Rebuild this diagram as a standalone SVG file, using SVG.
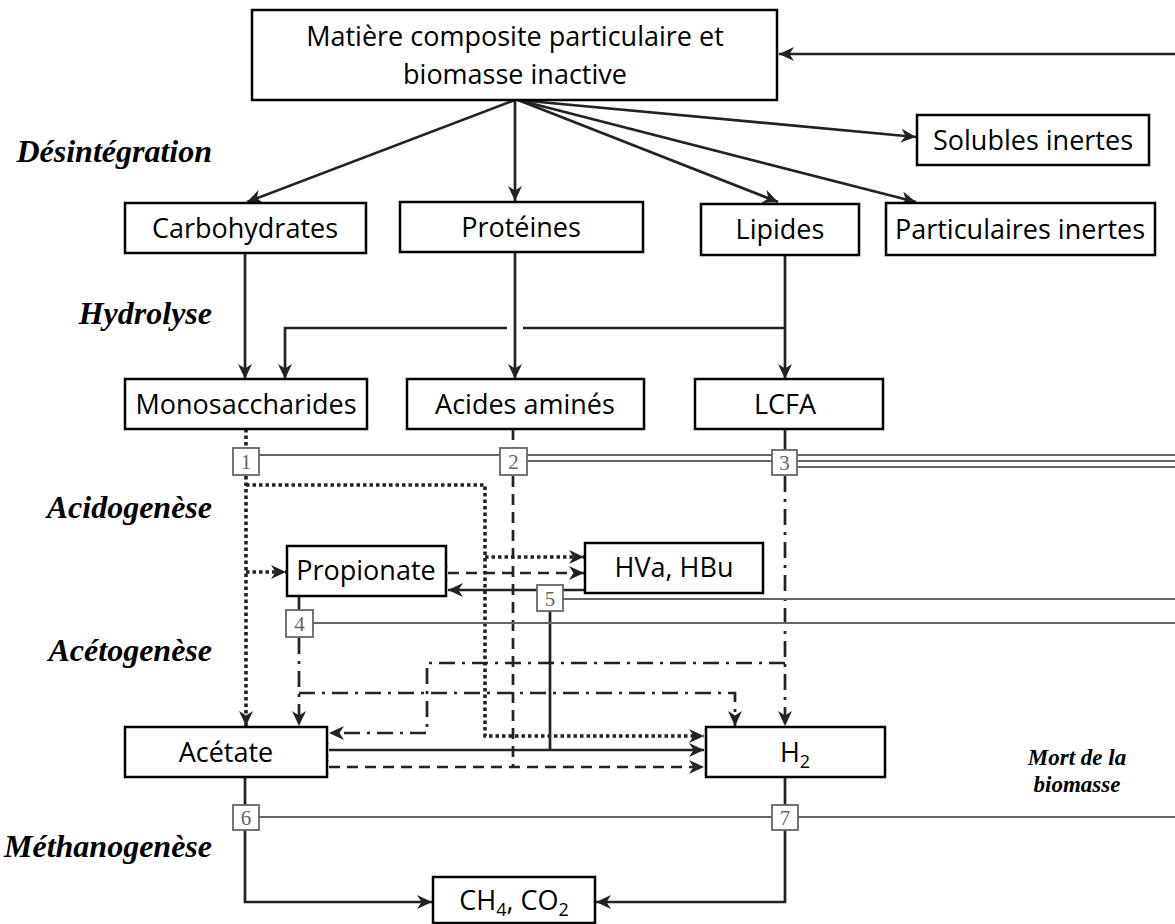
<svg xmlns="http://www.w3.org/2000/svg" width="1175" height="924" viewBox="0 0 1175 924">
<style>
.box{fill:#fff;stroke:#000;stroke-width:2.5}
.t{font-family:"Open Sans","Liberation Sans",sans-serif;font-size:27px;fill:#000;text-anchor:middle}
.sub{font-size:18px}
.lbl{font-family:"Liberation Serif",serif;font-weight:bold;font-style:italic;font-size:32px;fill:#000;text-anchor:end}
.mort{font-family:"Liberation Serif",serif;font-weight:bold;font-style:italic;font-size:23px;fill:#000;text-anchor:middle}
.nb{fill:#fff;stroke:#666;stroke-width:1.8}
.nt{font-family:"Liberation Serif",serif;font-size:21px;fill:#666;text-anchor:middle}
.gl{stroke:#666;stroke-width:2;fill:none}
.s{stroke:#222;stroke-width:2.7;fill:none}
.dot{stroke-dasharray:3.5 3;stroke-width:3.6}
.dash{stroke-dasharray:11 7}
.dd{stroke-dasharray:16 7 3 7}
</style>
<defs>
<marker id="ah" markerUnits="userSpaceOnUse" markerWidth="18" markerHeight="16" refX="15" refY="7" orient="auto">
<path d="M0,0 L15,7 L0,14 L4.5,7 Z" fill="#222" stroke="none"/>
</marker>
<marker id="ahs" markerUnits="userSpaceOnUse" markerWidth="18" markerHeight="16" refX="0" refY="7" orient="auto-start-reverse">
<path d="M0,0 L15,7 L0,14 L4.5,7 Z" fill="#222" stroke="none"/>
</marker>
</defs>
<rect width="1175" height="924" fill="#fff"/>

<g id="stage-labels">
<text class="lbl" x="212" y="162">Désintégration</text>
<text class="lbl" x="212" y="324">Hydrolyse</text>
<text class="lbl" x="212" y="518">Acidogenèse</text>
<text class="lbl" x="212" y="661">Acétogenèse</text>
<text class="lbl" x="212" y="857">Méthanogenèse</text>
<text class="mort" x="1077" y="765">Mort de la</text>
<text class="mort" x="1077" y="792">biomasse</text>
</g>

<g id="connectors">
<line class="s" x1="1175" y1="54" x2="779" y2="54" marker-end="url(#ah)"/>
<line class="s" x1="515" y1="100" x2="247" y2="202" marker-end="url(#ah)"/>
<line class="s" x1="515" y1="100" x2="515" y2="201" marker-end="url(#ah)"/>
<line class="s" x1="518" y1="100" x2="778" y2="202" marker-end="url(#ah)"/>
<line class="s" x1="518" y1="100" x2="916" y2="202" marker-end="url(#ah)"/>
<line class="s" x1="518" y1="100" x2="916" y2="137" marker-end="url(#ah)"/>
<line class="s" x1="245" y1="253" x2="245" y2="379" marker-end="url(#ah)"/>
<line class="s" x1="515" y1="252" x2="515" y2="379" marker-end="url(#ah)"/>
<line class="s" x1="785" y1="255" x2="785" y2="379" marker-end="url(#ah)"/>
<line class="s" x1="785" y1="328" x2="523" y2="328"/>
<polyline class="s" points="507,328 285,328 285,379" marker-end="url(#ah)"/>
<line class="s dot" x1="246" y1="429" x2="246" y2="448"/>
<line class="s dot" x1="246" y1="476" x2="246" y2="726" marker-end="url(#ah)"/>
<polyline class="s dot" points="246,485 485,485 485,736 704,736" marker-end="url(#ah)"/>
<line class="s dot" x1="485" y1="557" x2="584" y2="557" marker-end="url(#ah)"/>
<line class="s dot" x1="246" y1="572" x2="286" y2="572" marker-end="url(#ah)"/>
<line class="s dash" x1="513" y1="429" x2="513" y2="448"/>
<line class="s dash" x1="513" y1="476" x2="513" y2="767"/>
<line class="s dash" x1="329" y1="767" x2="704" y2="767" marker-start="url(#ahs)" marker-end="url(#ah)"/>
<line class="s dash" x1="448" y1="573" x2="584" y2="573" marker-start="url(#ahs)" marker-end="url(#ah)"/>
<line class="s" x1="585" y1="590" x2="448" y2="590" marker-end="url(#ah)"/>
<line class="s" x1="550" y1="611" x2="550" y2="750"/>
<line class="s" x1="329" y1="750" x2="704" y2="750" marker-start="url(#ahs)" marker-end="url(#ah)"/>
<line class="s" x1="299" y1="596" x2="299" y2="610"/>
<line class="s dd" x1="299" y1="638" x2="299" y2="726" marker-end="url(#ah)"/>
<polyline class="s dd" points="299,693 735,693 735,726" marker-end="url(#ah)"/>
<line class="s" x1="785" y1="429" x2="785" y2="450"/>
<line class="s dd" x1="785" y1="476" x2="785" y2="726" marker-end="url(#ah)"/>
<polyline class="s dd" points="785,663 427,663 427,733 329,733" marker-end="url(#ah)"/>
<line class="s" x1="245" y1="777" x2="245" y2="805"/>
<polyline class="s" points="245,830 245,902 432,902" marker-end="url(#ah)"/>
<line class="s" x1="785" y1="777" x2="785" y2="805"/>
<polyline class="s" points="785,830 785,902 596,902" marker-end="url(#ah)"/>
</g>

<g id="process-lines">
<line class="gl" x1="259" y1="455" x2="500" y2="455"/>
<line class="gl" x1="527" y1="455" x2="772" y2="455"/>
<line class="gl" x1="527" y1="461" x2="772" y2="461"/>
<line class="gl" x1="797" y1="455" x2="1175" y2="455"/>
<line class="gl" x1="797" y1="461" x2="1175" y2="461"/>
<line class="gl" x1="797" y1="467" x2="1175" y2="467"/>
<line class="gl" x1="563" y1="599" x2="1175" y2="599"/>
<line class="gl" x1="313" y1="623" x2="1175" y2="623"/>
<line class="gl" x1="259" y1="817" x2="772" y2="817"/>
<line class="gl" x1="798" y1="817" x2="1175" y2="817"/>
</g>

<g id="n-composite"><rect class="box" x="252" y="10" width="525" height="90"/>
<text class="t" x="515" y="46">Matière composite particulaire et</text>
<text class="t" x="515" y="84">biomasse inactive</text></g>
<g id="n-solubles"><rect class="box" x="917" y="115" width="232" height="50"/><text class="t" x="1033" y="150">Solubles inertes</text></g>
<g id="n-carbo"><rect class="box" x="125" y="203" width="241" height="50"/><text class="t" x="245" y="238">Carbohydrates</text></g>
<g id="n-proteines"><rect class="box" x="400" y="202" width="243" height="50"/><text class="t" x="521" y="237">Protéines</text></g>
<g id="n-lipides"><rect class="box" x="701" y="204" width="158" height="51"/><text class="t" x="780" y="239">Lipides</text></g>
<g id="n-particulaires"><rect class="box" x="886" y="203" width="269" height="52"/><text class="t" x="1020" y="239">Particulaires inertes</text></g>
<g id="n-mono"><rect class="box" x="125" y="379" width="242" height="50"/><text class="t" x="246" y="414">Monosaccharides</text></g>
<g id="n-acides"><rect class="box" x="407" y="379" width="237" height="50"/><text class="t" x="525" y="414">Acides aminés</text></g>
<g id="n-lcfa"><rect class="box" x="695" y="379" width="188" height="50"/><text class="t" x="785" y="414">LCFA</text></g>
<g id="n-propionate"><rect class="box" x="287" y="546" width="159" height="50"/><text class="t" x="366" y="580">Propionate</text></g>
<g id="n-hva"><rect class="box" x="585" y="543" width="178" height="50"/><text class="t" x="674" y="577">HVa, HBu</text></g>
<g id="n-acetate"><rect class="box" x="125" y="727" width="202" height="50"/><text class="t" x="226" y="762">Acétate</text></g>
<g id="n-h2"><rect class="box" x="706" y="727" width="179" height="50"/><text class="t" x="795" y="762">H<tspan class="sub" dy="6">2</tspan></text></g>
<g id="n-ch4"><rect class="box" x="433" y="877" width="162" height="46"/><text class="t" x="514" y="910">CH<tspan class="sub" dy="6">4</tspan><tspan dy="-6">, CO</tspan><tspan class="sub" dy="6">2</tspan></text></g>

<g id="n-p1"><rect class="nb" x="233" y="448" width="26" height="27"/><text class="nt" x="246" y="469">1</text></g>
<g id="n-p2"><rect class="nb" x="500" y="448" width="27" height="27"/><text class="nt" x="513.5" y="469">2</text></g>
<g id="n-p3"><rect class="nb" x="772" y="450" width="25" height="25"/><text class="nt" x="784.5" y="470">3</text></g>
<g id="n-p4"><rect class="nb" x="286" y="610" width="27" height="27"/><text class="nt" x="299.5" y="631">4</text></g>
<g id="n-p5"><rect class="nb" x="537" y="585" width="26" height="26"/><text class="nt" x="550" y="606">5</text></g>
<g id="n-p6"><rect class="nb" x="233" y="805" width="26" height="25"/><text class="nt" x="246" y="825">6</text></g>
<g id="n-p7"><rect class="nb" x="772" y="805" width="26" height="25"/><text class="nt" x="785" y="825">7</text></g>
</svg>
